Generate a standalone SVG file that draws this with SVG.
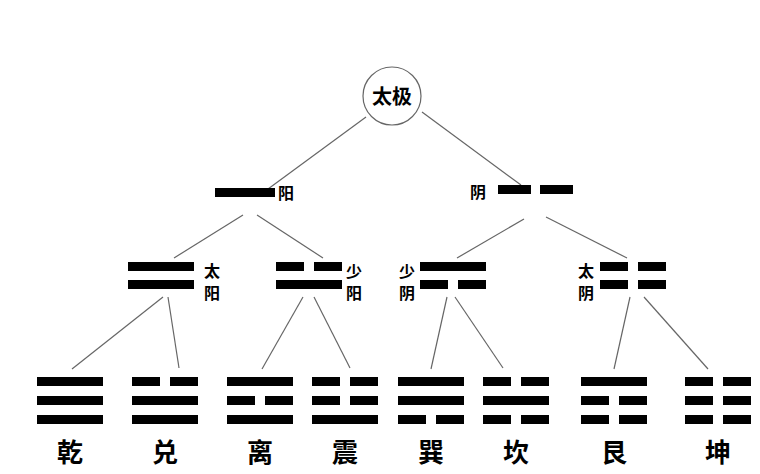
<svg xmlns="http://www.w3.org/2000/svg" width="760" height="474" viewBox="0 0 760 474">
<style>
.c{stroke:#666;stroke-width:1.2;fill:none}
.b{fill:#000}
text{font-family:"Noto Sans CJK SC",sans-serif;font-weight:bold;fill:#000}
.s{font-size:16px}
.l{font-size:26px;text-anchor:middle}
</style>
<defs>
<rect id="y" width="66" height="9" class="b"/>
<g id="n"><rect width="28" height="9" class="b"/><rect x="38" width="28" height="9" class="b"/></g>
</defs>
<rect width="760" height="474" fill="#fff"/>
<g id="connectors">
<line class="c" x1="366" y1="117" x2="268" y2="189"/>
<line class="c" x1="422" y1="112" x2="521" y2="185"/>
<line class="c" x1="243" y1="215" x2="174" y2="258"/>
<line class="c" x1="257" y1="215" x2="323" y2="258"/>
<line class="c" x1="524" y1="219" x2="457" y2="258"/>
<line class="c" x1="546" y1="217" x2="627" y2="258"/>
<line class="c" x1="163" y1="297" x2="72" y2="369"/>
<line class="c" x1="168" y1="297" x2="179" y2="368"/>
<line class="c" x1="303" y1="297" x2="262" y2="369"/>
<line class="c" x1="314" y1="297" x2="350" y2="368"/>
<line class="c" x1="447" y1="297" x2="431" y2="369"/>
<line class="c" x1="455" y1="297" x2="503" y2="368"/>
<line class="c" x1="630" y1="297" x2="614" y2="369"/>
<line class="c" x1="644" y1="297" x2="708" y2="369"/>
</g>
<g id="taiji"><circle cx="392" cy="96" r="29" fill="#fff" stroke="#666" stroke-width="1.2"/><text x="392" y="104" text-anchor="middle" style="font-size:20px">太极</text></g>
<g id="yang"><rect x="215" y="188" width="60" height="9" class="b"/><text x="278" y="199" class="s">阳</text></g>
<g id="yin"><text x="470" y="198" class="s">阴</text><rect x="498" y="185" width="33" height="9" class="b"/><rect x="540" y="185" width="33" height="9" class="b"/></g>
<g id="taiyang"><use href="#y" x="128" y="262"/><use href="#y" x="128" y="280"/><text x="204" y="277" class="s">太</text><text x="204" y="299" class="s">阳</text></g>
<g id="shaoyang"><use href="#n" x="276" y="262"/><use href="#y" x="276" y="280"/><text x="346" y="277" class="s">少</text><text x="346" y="299" class="s">阳</text></g>
<g id="shaoyin"><use href="#y" x="420" y="262"/><use href="#n" x="420" y="280"/><text x="399" y="277" class="s">少</text><text x="399" y="299" class="s">阴</text></g>
<g id="taiyin"><use href="#n" x="600" y="262"/><use href="#n" x="600" y="280"/><text x="578" y="277" class="s">太</text><text x="578" y="299" class="s">阴</text></g>
<g id="qian"><use href="#y" x="37" y="377"/><use href="#y" x="37" y="396"/><use href="#y" x="37" y="415"/><text x="70" y="462" class="l">乾</text></g>
<g id="dui"><use href="#n" x="132" y="377"/><use href="#y" x="132" y="396"/><use href="#y" x="132" y="415"/><text x="165" y="462" class="l">兑</text></g>
<g id="li"><use href="#y" x="227" y="377"/><use href="#n" x="227" y="396"/><use href="#y" x="227" y="415"/><text x="260" y="462" class="l">离</text></g>
<g id="zhen"><use href="#n" x="312" y="377"/><use href="#n" x="312" y="396"/><use href="#y" x="312" y="415"/><text x="345" y="462" class="l">震</text></g>
<g id="xun"><use href="#y" x="398" y="377"/><use href="#y" x="398" y="396"/><use href="#n" x="398" y="415"/><text x="431" y="462" class="l">巽</text></g>
<g id="kan"><use href="#n" x="483" y="377"/><use href="#y" x="483" y="396"/><use href="#n" x="483" y="415"/><text x="516" y="462" class="l">坎</text></g>
<g id="gen"><use href="#y" x="581" y="377"/><use href="#n" x="581" y="396"/><use href="#n" x="581" y="415"/><text x="614" y="462" class="l">艮</text></g>
<g id="kun"><use href="#n" x="685" y="377"/><use href="#n" x="685" y="396"/><use href="#n" x="685" y="415"/><text x="718" y="462" class="l">坤</text></g>
</svg>
